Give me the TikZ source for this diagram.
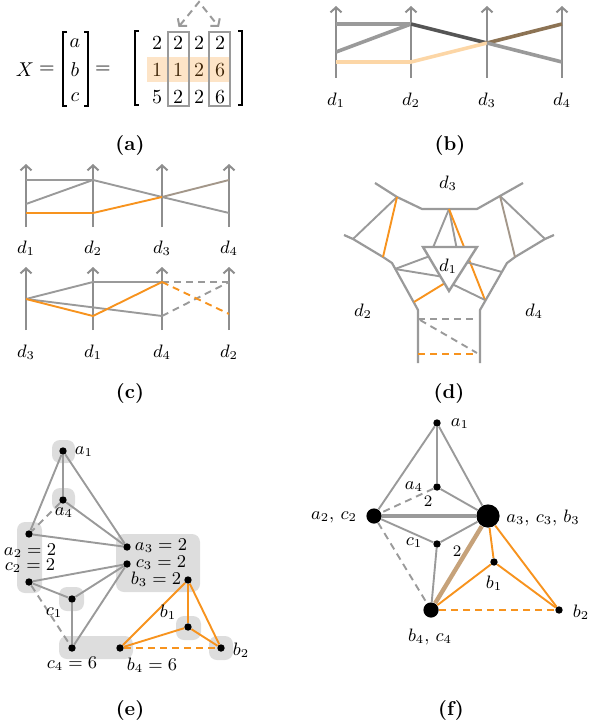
\documentclass[tikz,border=0pt]{standalone}
\usetikzlibrary{arrows.meta}

\definecolor{axisgray}{HTML}{8E8E8E}
\definecolor{linegray}{HTML}{9A9A9A}
\definecolor{darkline}{HTML}{555555}
\definecolor{peachline}{HTML}{FCD6A6}
\definecolor{brownline}{HTML}{8C7354}
\definecolor{tanline}{HTML}{C6A27A}
\definecolor{mixline}{HTML}{A3978A}
\definecolor{orangeline}{HTML}{F7931E}
\definecolor{blobgray}{HTML}{DDDDDD}

\begin{document}
\begin{tikzpicture}[x=0.5pt, y=-0.5pt, font=\small, line cap=butt,
  axis/.style={axisgray, line width=1pt, -{Straight Barb[length=2.5pt,width=5.5pt]}},
  gline/.style={linegray, line width=0.95pt},
  oline/.style={orangeline, line width=0.95pt},
  dline/.style={dash pattern=on 3.5pt off 2.5pt},
  fatline/.style={line width=1.8pt},
  bracket/.style={black, line width=0.6pt},
  colbox/.style={draw=linegray, line width=1pt, minimum width=10.5pt, minimum height=37pt, inner sep=0pt},
  dot/.style={circle, fill=black, inner sep=0pt, minimum size=3.7pt},
  blob/.style={blobgray, rounded corners=4pt},
  caption/.style={font=\normalsize\bfseries}]
\useasboundingbox (0,0) rectangle (599,722);

% (a): X as a vector of three columns
\begin{scope}[font=\normalsize]
\node (X) at (25,70) {$X$};
\node (eqa) at (47,70) {$=$};
\node (va) at (75,43) {$a$};
\node (vb) at (75,70) {$b$};
\node (vc) at (75,97) {$c$};
\draw[bracket] (67,32) -| (63,106) -- (67,106);
\draw[bracket] (84,32) -| (88,106) -- (84,106);
\node (eqb) at (103,70) {$=$};
\draw[bracket] (139,31) -| (135,105) -- (139,105);
\draw[bracket] (238,31) -| (242,105) -- (238,105);
\foreach \row [count=\r] in {{2,2,2,2},{1,1,2,6},{5,2,2,6}}
  \foreach \v [count=\c] in \row
    \node (m\r\c) at (136+21*\c, 16+27*\r) {$\v$};
\end{scope}
% row b highlighted
\fill[orangeline, opacity=0.25] (147,57) rectangle (230,82);
\node[colbox] (col2) at (178.5,69) {};
\node[colbox] (col4) at (219,69) {};
\draw[linegray, line width=1pt, dline, {Straight Barb[length=2.5pt,width=6pt]}-{Straight Barb[length=2.5pt,width=6pt]}]
  ([yshift=2pt]col2.north) -- (199,2) -- ([yshift=2pt]col4.north);
\node[caption] (capa) at (130,145) {(a)};

% (b): parallel coordinates, thick lines
\foreach \x/\d in {336/1, 411/2, 487/3, 562/4} {
  \draw[axis] (\x,78) -- (\x,6);
  \node (b\d) at (\x,100) {$d_{\d}$};
}
\draw[fatline, linegray] (336,24) -- (411,24);
\draw[fatline, linegray] (336,52) -- (411,24);
\draw[fatline, darkline] (411,24) -- (487,43);
\draw[fatline, peachline] (336,62) -- (411,62) -- (487,43);
\draw[fatline, brownline] (487,43) -- (562,24);
\draw[fatline, linegray] (487,43) -- (562,62);
\node[caption] (capb) at (450,145) {(b)};

% (c) top: original order
\foreach \x/\d in {26/1, 93/2, 162/3, 229/4} {
  \draw[axis] (\x,227) -- (\x,164);
  \node (ct\d) at (\x,248) {$d_{\d}$};
}
\draw[gline] (26,180) -- (93,180);
\draw[gline] (26,204) -- (93,180) -- (162,197) -- (229,213);
\draw[oline] (26,213) -- (93,213) -- (162,197);
\draw[gline, mixline] (162,197) -- (229,180);
% (c) bottom: reordered axes
\foreach \x/\d [count=\k] in {26/3, 93/1, 162/4, 229/2} {
  \draw[axis] (\x,330) -- (\x,267);
  \node (cb\k) at (\x,352) {$d_{\d}$};
}
\draw[gline] (26,299) -- (93,282) -- (162,282);
\draw[gline, dline] (162,282) -- (229,282);
\draw[gline] (26,299) -- (162,316);
\draw[gline, dline] (162,316) -- (229,282);
\draw[oline] (26,299) -- (93,316) -- (162,282);
\draw[oline, dline] (162,282) -- (229,314);
\node[caption] (capc) at (130,393) {(c)};

% (d): radial layout around d1
\draw[gline, line width=1.1pt] (375,183) -- (397,197) -- (422,209) -- (477,209) -- (500,196) -- (523,183);
\draw[gline, line width=1.1pt] (344,235) -- (353,239) -- (383,257) -- (392,263) -- (418,310) -- (418,363);
\draw[gline, line width=1.1pt] (554,235) -- (545,239) -- (515,257) -- (507,263) -- (480,310) -- (480,363);
\draw[gline] (353,239) -- (397,197);
\draw[oline] (397,197) -- (383,257);
\draw[gline] (500,196) -- (545,239);
\draw[gline, mixline] (500,196) -- (515,257);
\draw[gline] (449,209) -- (432,250);
\draw[gline] (449,209) -- (457,250);
\draw[oline] (449,209) -- (485,300);
\draw[gline] (395,269) -- (430,256);
\draw[gline] (395,269) -- (444,277);
\draw[oline] (414,302) -- (445,283);
\draw[gline] (452,284) -- (485,300);
\draw[gline] (466,262) -- (502,272);
\draw[gline, line width=1.2pt, fill=white] (423,247) -- (477,247) -- (449,291) -- cycle;
\node (dd1) at (448,266) {$d_1$};
\draw[gline, dline] (418,319) -- (477,319);
\draw[gline, dline] (420,320) -- (477,353);
\draw[oline, dline] (418,354) -- (477,354);
\node (dd3) at (448,183) {$d_3$};
\node (dd2) at (363,311) {$d_2$};
\node (dd4) at (534,311) {$d_4$};
\node[caption] (capd) at (449,393) {(d)};

% (e): graph with grouped values
\fill[blob] (52,440) rectangle (75,463);
\fill[blob] (52,488) rectangle (75,511);
\fill[blob] (17,522) rectangle (42,593);
\fill[blob] (116,534) rectangle (200,592);
\fill[blob] (59,587) rectangle (84,611);
\fill[blob] (59,636) rectangle (133,659);
\fill[blob] (176,616) rectangle (201,640);
\fill[blob] (209,636) rectangle (233,660);
\node[dot] (ea1) at (63,451) {};
\node[dot] (ea4) at (63,500) {};
\node[dot] (ea2) at (29,534) {};
\node[dot] (ec2) at (29,582) {};
\node[dot] (ea3) at (127,547) {};
\node[dot] (ec3) at (127,564) {};
\node[dot] (eb3) at (188,580) {};
\node[dot] (ec1) at (72,599) {};
\node[dot] (ec4) at (72,648) {};
\node[dot] (eb4) at (120,648) {};
\node[dot] (eb1) at (188,627) {};
\node[dot] (eb2) at (221,648) {};
\draw[gline] (ea1) -- (ea4);
\draw[gline] (ea1) -- (ea2);
\draw[gline] (ea1) -- (ea3);
\draw[gline] (ea4) -- (ea3);
\draw[gline, dline] (ea4) -- (ea2);
\draw[gline] (ea2) -- (ea3);
\draw[gline] (ec2) -- (ec3);
\draw[gline] (ec2) -- (ec1);
\draw[gline] (ec1) -- (ec3);
\draw[gline] (ec1) -- (ec4);
\draw[gline] (ec3) -- (ec4);
\draw[gline, dline] (ec2) -- (ec4);
\draw[oline] (eb3) -- (eb4);
\draw[oline] (eb3) -- (eb1);
\draw[oline] (eb3) -- (eb2);
\draw[oline] (eb1) -- (eb4);
\draw[oline] (eb1) -- (eb2);
\draw[oline, dline] (eb4) -- (eb2);
\node (la1) at (84,452) {$a_1$};
\node (la4) at (64,513) {$a_4$};
\node (la2) at (30,551) {$a_2 = 2$};
\node (lc2) at (30,566) {$c_2 = 2$};
\node (la3) at (161,546) {$a_3 = 2$};
\node (lc3) at (161,563) {$c_3 = 2$};
\node (lb3) at (156,579) {$b_3 = 2$};
\node (lc1) at (54,613) {$c_1$};
\node (lb1) at (168,612) {$b_1$};
\node (lb2) at (241,650) {$b_2$};
\node (lc4) at (72,664) {$c_4 = 6$};
\node (lb4) at (152,665) {$b_4 = 6$};
\node[caption] (cape) at (130,710) {(e)};

% (f): merged graph
\node[dot] (fa1) at (437,423) {};
\node[dot] (fa4) at (437,487) {};
\node[dot, minimum size=7.6pt] (fa2) at (374,516) {};
\node[dot, minimum size=11.6pt] (fa3) at (488,516) {};
\node[dot] (fc1) at (437,544) {};
\node[dot] (fb1) at (494,562) {};
\node[dot, minimum size=7.6pt] (fb4) at (431,610) {};
\node[dot] (fb2) at (559,610) {};
\draw[gline] (fa1) -- (fa2);
\draw[gline] (fa1) -- (fa4);
\draw[gline] (fa1) -- (fa3);
\draw[gline] (fa4) -- (fa3);
\draw[gline, dline] (fa4) -- (fa2);
\draw[linegray, line width=2pt] (fa2) -- (fa3);
\draw[gline] (fa2) -- (fc1) -- (fa3);
\draw[gline] (fc1) -- (fb4);
\draw[gline, dline] (fa2) -- (fb4);
\draw[tanline, line width=2.2pt] (fa3) -- (fb4);
\draw[oline] (fa3) -- (fb1);
\draw[oline] (fa3) -- (fb2);
\draw[oline] (fb1) -- (fb4);
\draw[oline] (fb1) -- (fb2);
\draw[oline, dline] (fb4) -- (fb2);
\node (ma1) at (460,424) {$a_1$};
\node (ma4) at (414,487) {$a_4$};
\node[font=\footnotesize] (mw1) at (428,501) {2};
\node (ma2) at (334,517) {$a_2,\, c_2$};
\node (ma3) at (543,518) {$a_3,\, c_3,\, b_3$};
\node (mc1) at (414,543) {$c_1$};
\node[font=\footnotesize] (mw2) at (457,551) {2};
\node (mb1) at (494,583) {$b_1$};
\node (mb4) at (430,637) {$b_4,\, c_4$};
\node (mb2) at (581,612) {$b_2$};
\node[caption] (capf) at (451,710) {(f)};
\end{tikzpicture}
\end{document}
